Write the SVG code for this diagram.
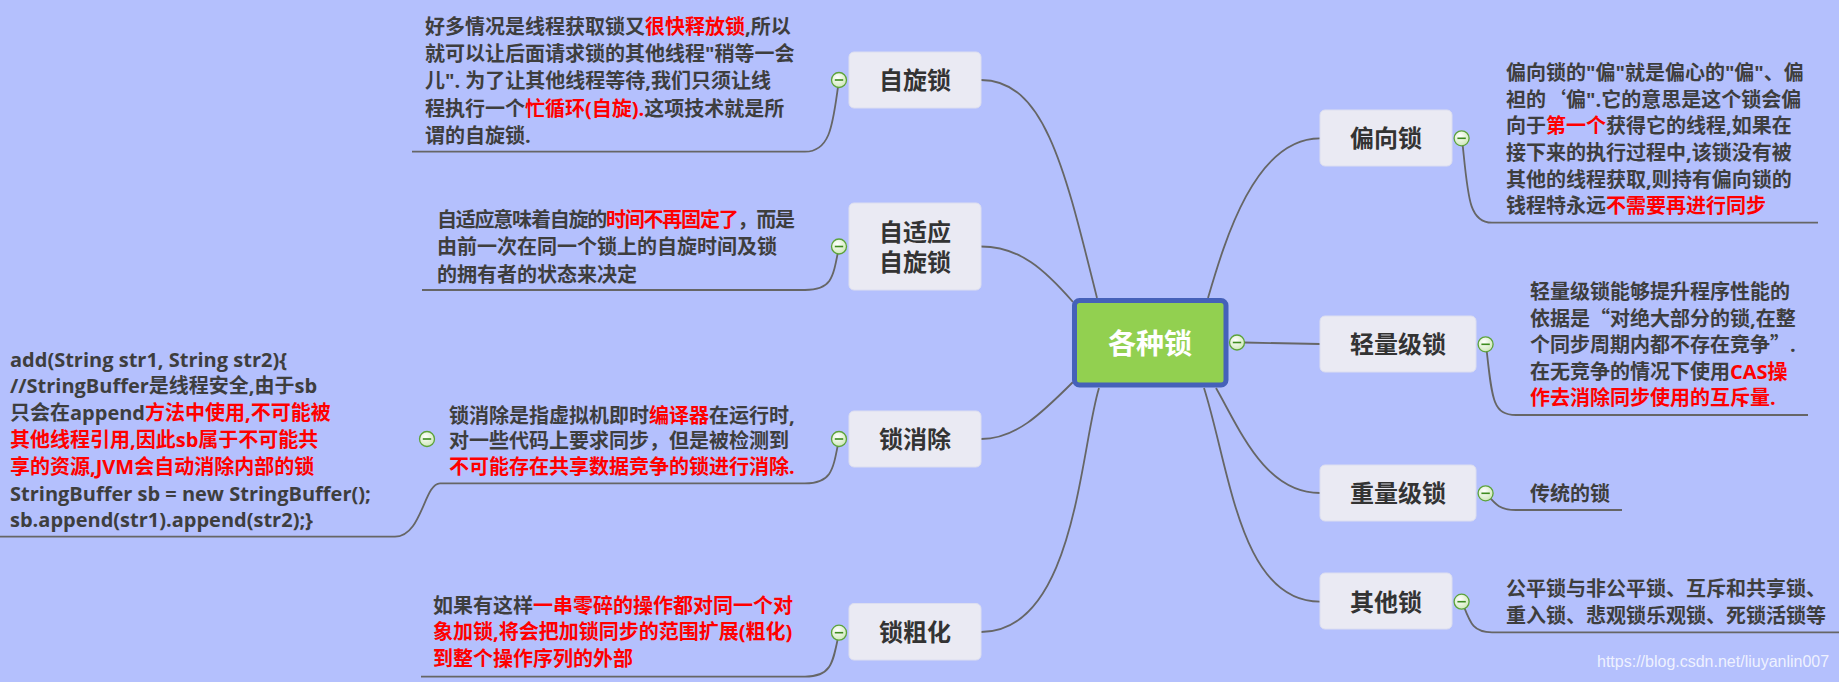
<svg xmlns="http://www.w3.org/2000/svg" width="1839" height="682" viewBox="0 0 1839 682">
<style>
.bg{fill:#b4c0fd}
.br{fill:none;stroke:#666666;stroke-width:1.8}
.box{fill:#eaeaf3;stroke:#dcdef0;stroke-width:1}
.bt{font-family:"Noto Sans CJK SC","Open Sans",sans-serif;font-weight:bold;font-size:24px;fill:#333333;text-anchor:middle}
.ct{font-family:"Noto Sans CJK SC","Open Sans",sans-serif;font-weight:bold;font-size:28px;fill:#ffffff;text-anchor:middle}
.p{font-family:"Open Sans","Noto Sans CJK SC",sans-serif;font-weight:bold;font-size:20px;fill:#3e3e3e}
.r{fill:#ff0000}
.cj{font-family:"Noto Sans CJK SC",sans-serif}
.wm{font-family:"Liberation Sans",Arial,sans-serif;font-size:16px;fill:#ffffff;fill-opacity:0.8}
</style>
<defs>
<radialGradient id="tg" cx="0.4" cy="0.35" r="0.75">
<stop offset="0" stop-color="#ffffff"/>
<stop offset="1" stop-color="#c9e5b0"/>
</radialGradient>
<g id="toggle">
<circle cx="0" cy="0" r="7.5" fill="url(#tg)" stroke="#5ca33a" stroke-width="1.3"/>
<line x1="-4.2" y1="0" x2="4.2" y2="0" stroke="#3d8b1e" stroke-width="1.6"/>
</g>
</defs>
<rect class="bg" x="0" y="0" width="1839" height="682"/>

<g id="connectors">
<path class="br" d="M981,80 C1045,80 1065,170 1097,298"/>
<path class="br" d="M981,246.5 C1020,246.5 1045,270 1073,302"/>
<path class="br" d="M1208,298 C1225,240 1255,138.3 1320,138.3"/>
<path class="br" d="M1244,342.5 L1320,344"/>
<path class="br" d="M1216,388 C1240,430 1265,493 1320,493"/>
<path class="br" d="M1204,388 C1230,470 1240,601.7 1320,601.7"/>
<path class="br" d="M1073,382 C1040,415 1015,439 981,439"/>
<path class="br" d="M1099,388 C1080,450 1075,632 981,632"/>
<path class="br" d="M839,80 C833,120 832,151.7 805,151.7 H412"/>
<path class="br" d="M839,246.5 C833,278 832,290 805,290 H422"/>
<path class="br" d="M839,439 C833,470 832,483.3 805,483.3 H440"/>
<path class="br" d="M440,483.3 C424,483.3 422,536.7 395,536.7 H0"/>
<path class="br" d="M839,632.7 C833,662 832,676.7 805,676.7 H421"/>
<path class="br" d="M1462,138.3 C1468,195 1468,222.7 1492,222.7 H1818"/>
<path class="br" d="M1486,344.3 C1492,398 1492,415 1516,415 H1808"/>
<path class="br" d="M1486,493.3 C1496,505 1500,510 1516,510 H1622"/>
<path class="br" d="M1462,601.7 C1470,622 1472,632.3 1492,632.3 H1839"/>
</g>

<g id="root">
<rect x="1074.5" y="300.5" width="151.5" height="84.5" rx="5" fill="#92d050" stroke="#4561b9" stroke-width="5"/>
<text class="ct" x="1150" y="353.5">各种锁</text>
<use href="#toggle" x="1237" y="342.5"/>
</g>

<g id="n-spin">
<rect class="box" x="849" y="52" width="132" height="56" rx="5"/>
<text class="bt" x="915" y="89">自旋锁</text>
<use href="#toggle" x="839" y="80"/>
</g>
<g id="n-spin-text">
<text class="p" x="425">
<tspan x="425" y="33.5">好多情况是线程获取锁又<tspan class="r">很快释放锁</tspan>,所以</tspan>
<tspan x="425" y="61">就可以让后面请求锁的其他线程"稍等一会</tspan>
<tspan x="425" y="88.3">儿". 为了让其他线程等待,我们只须让线</tspan>
<tspan x="425" y="115.6">程执行一个<tspan class="r">忙循环(自旋).</tspan>这项技术就是所</tspan>
<tspan x="425" y="142.8">谓的自旋锁.</tspan>
</text>
</g>

<g id="n-adaptive">
<rect class="box" x="849" y="203" width="132" height="87" rx="5"/>
<text class="bt" x="915" y="240.5">自适应</text>
<text class="bt" x="915" y="270.5">自旋锁</text>
<use href="#toggle" x="839" y="246.5"/>
</g>
<g id="n-adaptive-text">
<text class="p" x="437" y="226.5" textLength="358" lengthAdjust="spacing">自适应意味着自旋的<tspan class="r">时间不再固定了</tspan>，而是</text>
<text class="p">
<tspan x="437" y="254">由前一次在同一个锁上的自旋时间及锁</tspan>
<tspan x="437" y="281.5">的拥有者的状态来决定</tspan>
</text>
</g>

<g id="n-elim">
<rect class="box" x="849" y="411" width="132" height="56" rx="5"/>
<text class="bt" x="915" y="448">锁消除</text>
<use href="#toggle" x="839" y="439"/>
</g>
<g id="n-elim-text">
<text class="p">
<tspan x="449" y="422.5">锁消除是指虚拟机即时<tspan class="r">编译器</tspan>在运行时,</tspan>
<tspan x="449" y="447.5">对一些代码上要求同步，但是被检测到</tspan>
<tspan x="449" y="473.5" class="r">不可能存在共享数据竞争的锁进行消除.</tspan>
</text>
<use href="#toggle" x="427" y="439"/>
</g>
<g id="n-elim-code">
<text class="p">
<tspan x="10" y="366.5">add(String str1, String str2){</tspan>
<tspan x="10" y="393">//StringBuffer是线程安全,由于sb</tspan>
<tspan x="10" y="419.5">只会在append<tspan class="r">方法中使用,不可能被</tspan></tspan>
<tspan x="10" y="447" class="r">其他线程引用,因此sb属于不可能共</tspan>
<tspan x="10" y="474" class="r">享的资源,JVM会自动消除内部的锁</tspan>
<tspan x="10" y="500.5">StringBuffer sb = new StringBuffer();</tspan>
<tspan x="10" y="527.3">sb.append(str1).append(str2);}</tspan>
</text>
</g>

<g id="n-coarse">
<rect class="box" x="849" y="603.5" width="132" height="56.5" rx="5"/>
<text class="bt" x="915" y="640.7">锁粗化</text>
<use href="#toggle" x="839" y="632.7"/>
</g>
<g id="n-coarse-text">
<text class="p">
<tspan x="433" y="612.5">如果有这样<tspan class="r">一串零碎的操作都对同一个对</tspan></tspan>
<tspan x="433" y="639" class="r">象加锁,将会把加锁同步的范围扩展(粗化)</tspan>
<tspan x="433" y="665.5" class="r">到整个操作序列的外部</tspan>
</text>
</g>

<g id="n-biased">
<rect class="box" x="1320" y="110" width="132" height="56" rx="5"/>
<text class="bt" x="1386" y="147.3">偏向锁</text>
<use href="#toggle" x="1461.6" y="138.3"/>
</g>
<g id="n-biased-text">
<text class="p">
<tspan x="1506" y="79.8">偏向锁的"偏"就是偏心的"偏"、偏</tspan>
<tspan x="1506" y="106.5">袒的<tspan class="cj">‘</tspan>偏".它的意思是这个锁会偏</tspan>
<tspan x="1506" y="133.2">向于<tspan class="r">第一个</tspan>获得它的线程,如果在</tspan>
<tspan x="1506" y="159.9">接下来的执行过程中,该锁没有被</tspan>
<tspan x="1506" y="186.5">其他的线程获取,则持有偏向锁的</tspan>
<tspan x="1506" y="213.2">钱程特永远<tspan class="r">不需要再进行同步</tspan></tspan>
</text>
</g>

<g id="n-light">
<rect class="box" x="1320" y="316" width="156" height="56" rx="5"/>
<text class="bt" x="1398" y="352.5">轻量级锁</text>
<use href="#toggle" x="1485.6" y="344.3"/>
</g>
<g id="n-light-text">
<text class="p">
<tspan x="1530" y="298.5">轻量级锁能够提升程序性能的</tspan>
<tspan x="1530" y="325.5">依据是<tspan class="cj">“</tspan>对绝大部分的锁,在整</tspan>
<tspan x="1530" y="352">个同步周期内都不存在竞争<tspan class="cj">”</tspan>.</tspan>
<tspan x="1530" y="378.5">在无竞争的情况下使用<tspan class="r">CAS操</tspan></tspan>
<tspan x="1530" y="404.5" class="r">作去消除同步使用的互斥量.</tspan>
</text>
</g>

<g id="n-heavy">
<rect class="box" x="1320" y="465" width="156" height="56" rx="5"/>
<text class="bt" x="1398" y="502.3">重量级锁</text>
<use href="#toggle" x="1485.6" y="493.3"/>
</g>
<g id="n-heavy-text">
<text class="p" x="1530" y="501">传统的锁</text>
</g>

<g id="n-other">
<rect class="box" x="1320" y="573" width="132" height="56" rx="5"/>
<text class="bt" x="1386" y="610.7">其他锁</text>
<use href="#toggle" x="1461.6" y="601.7"/>
</g>
<g id="n-other-text">
<text class="p">
<tspan x="1506" y="596">公平锁与非公平锁、互斥和共享锁、</tspan>
<tspan x="1506" y="622.5">重入锁、悲观锁乐观锁、死锁活锁等</tspan>
</text>
</g>

<text class="wm" x="1597" y="667">https://blog.csdn.net/liuyanlin007</text>
</svg>
